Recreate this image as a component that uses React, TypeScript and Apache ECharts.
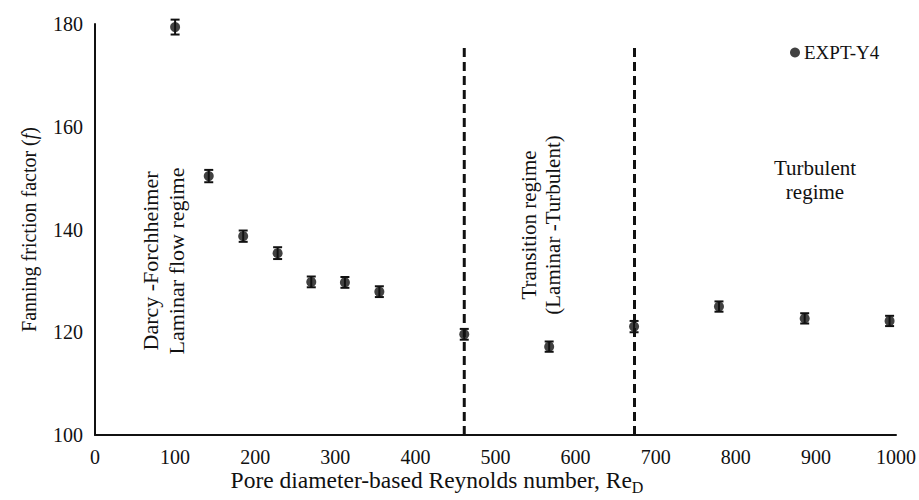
import React, { useEffect, useRef } from "react";
import * as echarts from "echarts";

const reynolds = [100, 142, 185, 228, 270, 312, 355, 461, 567, 673, 779, 886, 992];
const friction = [179.4, 150.4, 138.7, 135.4, 129.8, 129.7, 127.9, 119.6, 117.2, 121.1, 125.0, 122.7, 122.2];
const errors = [1.45, 1.2, 1.1, 1.15, 1.05, 1.05, 1.05, 1.05, 1.0, 1.1, 1.0, 1.0, 1.0];
const regimeBoundaries = [461, 673.5];
const boundaryTop = 176;
const xTicks = { min: 0, max: 1000, interval: 100 };
const yTicks = { min: 100, max: 180, interval: 20 };
const seriesName = "EXPT-Y4";

const FONT = "Liberation Serif";
const INK = "#111111";

export default function App() {
  const ref = useRef<HTMLDivElement>(null);
  useEffect(() => {
    if (!ref.current) return;
    const chart = echarts.init(ref.current, null, { renderer: "svg" });
    const errData = reynolds.map((x, i) => [x, friction[i] - errors[i], friction[i] + errors[i]]);
    const boundarySeries = regimeBoundaries.map((b) => ({
      type: "line",
      data: [
        [b, yTicks.min],
        [b, boundaryTop],
      ],
      symbol: "none",
      silent: true,
      lineStyle: { color: INK, width: 3, type: [9, 5] },
      z: 1,
    }));
    chart.setOption({
      animation: false,
      textStyle: { fontFamily: FONT },
      grid: { left: 95, right: 23, top: 24, bottom: 65 },
      legend: {
        data: [seriesName],
        left: 790,
        top: 43,
        padding: 0,
        itemWidth: 10,
        itemHeight: 10,
        itemGap: 4,
        icon: "circle",
        textStyle: { fontFamily: FONT, fontSize: 19, color: INK, padding: [0, 0, 0, -1] },
      },
      xAxis: {
        type: "value",
        min: xTicks.min,
        max: xTicks.max,
        interval: xTicks.interval,
        axisLine: { lineStyle: { color: INK, width: 2 } },
        axisTick: { show: false },
        splitLine: { show: false },
        axisLabel: {
          fontFamily: FONT,
          fontSize: 20,
          color: INK,
          margin: 12,
          formatter: (v: number) => String(v),
        },
      },
      yAxis: {
        type: "value",
        min: yTicks.min,
        max: yTicks.max,
        interval: yTicks.interval,
        axisLine: { show: true, lineStyle: { color: INK, width: 2 } },
        axisTick: { show: false },
        splitLine: { show: false },
        axisLabel: { fontFamily: FONT, fontSize: 20, color: INK, margin: 12 },
        name: "Fanning friction factor ({i|f})",
        nameLocation: "middle",
        nameGap: 56,
        nameTextStyle: {
          fontFamily: FONT,
          fontSize: 20,
          color: INK,
          rich: { i: { fontFamily: FONT, fontSize: 20, color: INK, fontStyle: "italic" } },
        },
      },
      series: [
        ...boundarySeries,
        {
          type: "custom",
          silent: true,
          data: errData,
          encode: { x: 0, y: [1, 2] },
          z: 2,
          renderItem: (params: any, api: any) => {
            const x = api.value(0);
            const lo = api.coord([x, api.value(1)]);
            const hi = api.coord([x, api.value(2)]);
            const w = 4.5;
            const style = { stroke: INK, lineWidth: 2 };
            return {
              type: "group",
              children: [
                { type: "line", shape: { x1: lo[0], y1: lo[1], x2: hi[0], y2: hi[1] }, style },
                { type: "line", shape: { x1: lo[0] - w, y1: lo[1], x2: lo[0] + w, y2: lo[1] }, style },
                { type: "line", shape: { x1: hi[0] - w, y1: hi[1], x2: hi[0] + w, y2: hi[1] }, style },
              ],
            };
          },
        },
        {
          name: seriesName,
          type: "scatter",
          data: reynolds.map((x, i) => [x, friction[i]]),
          symbol: "circle",
          symbolSize: 10,
          itemStyle: { color: INK },
          z: 3,
        },
      ],
      graphic: [
        {
          type: "text",
          x: 437,
          y: 480,
          style: {
            text: "Pore diameter-based Reynolds number, Re{sub|D}",
            fontFamily: FONT,
            fontSize: 23.5,
            fill: INK,
            align: "center",
            verticalAlign: "middle",
            rich: { sub: { fontFamily: FONT, fontSize: 16, fill: INK, padding: [14, 0, 0, 0] } },
          },
        },
        {
          type: "text",
          x: 163,
          y: 261,
          rotation: Math.PI / 2,
          style: {
            text: "Darcy -Forchheimer\nLaminar flow regime",
            fontFamily: FONT,
            fontSize: 22,
            fill: INK,
            align: "center",
            verticalAlign: "middle",
            lineHeight: 26,
          },
        },
        {
          type: "text",
          x: 541,
          y: 225,
          rotation: Math.PI / 2,
          style: {
            text: "Transition regime\n(Laminar -Turbulent)",
            fontFamily: FONT,
            fontSize: 21,
            fill: INK,
            align: "center",
            verticalAlign: "middle",
            lineHeight: 24,
          },
        },
        {
          type: "text",
          x: 815,
          y: 180,
          style: {
            text: "Turbulent\nregime",
            fontFamily: FONT,
            fontSize: 21,
            fill: INK,
            align: "center",
            verticalAlign: "middle",
            lineHeight: 24,
          },
        },
      ],
    });
    return () => chart.dispose();
  }, []);
  return (
    <div
      ref={ref}
      style={{ position: "fixed", left: 0, top: 0, width: 919, height: 500, background: "#fff" }}
    />
  );
}
